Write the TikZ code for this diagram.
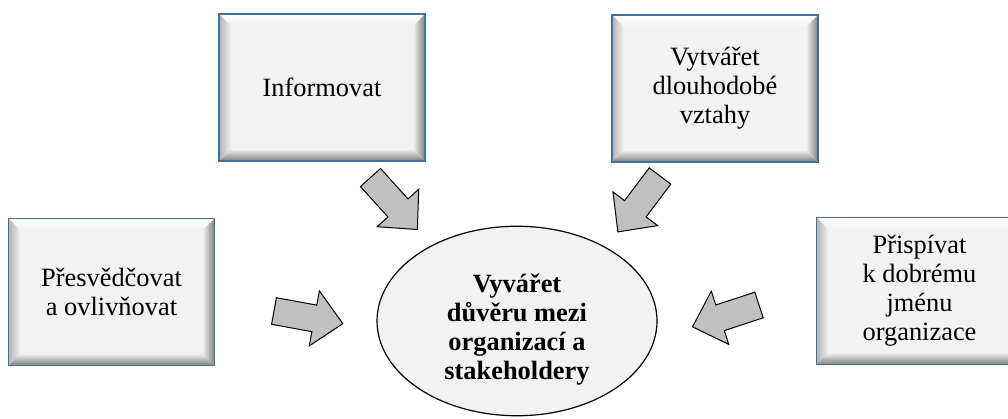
\documentclass[tikz,border=0pt]{standalone}
\usepackage{fontspec}
\setmainfont{Liberation Serif}
\usetikzlibrary{calc,shapes.geometric}
\definecolor{boxfill}{HTML}{F2F2F2}
\definecolor{boxedge}{HTML}{41719C}
\definecolor{arrowfill}{HTML}{C0C0C0}
\begin{document}
\begin{tikzpicture}[x=1pt,y=-1pt,
  bevelbox/.style={rectangle, minimum width=206pt, minimum height=147pt,
    inner sep=0pt, fill=boxfill, draw=boxedge, line width=1.5pt, align=center,
    font=\fontsize{26.4}{29}\selectfont,
    path picture={
      \coordinate (q1) at (path picture bounding box.north west);
      \coordinate (q2) at (path picture bounding box.north east);
      \coordinate (q3) at (path picture bounding box.south east);
      \coordinate (q4) at (path picture bounding box.south west);
      % bevel faces: light on top, shaded on the other sides
      \shade[top color=white, bottom color=boxfill]
        (q1) -- (q2) -- ($(q2)+(-12pt,-12pt)$) -- ($(q1)+(12pt,-12pt)$) -- cycle;
      \shade[left color=black!30, right color=boxfill]
        (q1) -- ($(q1)+(12pt,-12pt)$) -- ($(q4)+(12pt,12pt)$) -- (q4) -- cycle;
      \shade[left color=boxfill, right color=black!50]
        (q2) -- (q3) -- ($(q3)+(-12pt,12pt)$) -- ($(q2)+(-12pt,-12pt)$) -- cycle;
      \shade[top color=boxfill, bottom color=black!50]
        (q4) -- (q3) -- ($(q3)+(-12pt,12pt)$) -- ($(q4)+(12pt,12pt)$) -- cycle;
    }},
  goal/.style={ellipse, minimum width=280pt, minimum height=186pt, inner sep=0pt,
    fill=boxfill, draw=black, line width=1.2pt,
    font=\bfseries\fontsize{26.4}{29}\selectfont},
  arrowbody/.style={fill=arrowfill, draw=black, line width=1pt, line join=miter},
  blockarrow/.pic={
    \draw[arrowbody] (0,-13.5) -- (41,-13.5) -- (41,-28) -- (70,0)
      -- (41,28) -- (41,13.5) -- (0,13.5) -- cycle;
  }
]
\useasboundingbox (0,0) rectangle (1008,419);

% goals around the centre
\node[bevelbox] (inform) at (322,87.5) {Informovat};
\node[bevelbox] (vztahy) at (715,88.5) {Vytvářet\\dlouhodobé\\vztahy};
\node[bevelbox] (presv) at (111.5,292) {Přesvědčovat\\a ovlivňovat};
\node[bevelbox] (prisp) at (919.5,291) {Přispívat\\k dobrému\\jménu\\organizace};

% central aim; extra room above the text sets it a little below the centre
\node[goal] (duvera) at (517,321)
  {\raisebox{0pt}[\dimexpr\height+18pt\relax][\depth]{\begin{tabular}{@{}c@{}}Vyvářet\\důvěru mezi\\organizací a\\stakeholdery\end{tabular}}};

% block arrows pointing at the central aim
\pic[rotate=-48] (a1) at (370.5,177.5) {blockarrow};
\pic[rotate=-127] (a2) at (660,176) {blockarrow};
\pic[rotate=-10.4] (a3) at (274,311) {blockarrow};
\pic[rotate=198.2] (a4) at (759,305) {blockarrow};
\end{tikzpicture}
\end{document}
